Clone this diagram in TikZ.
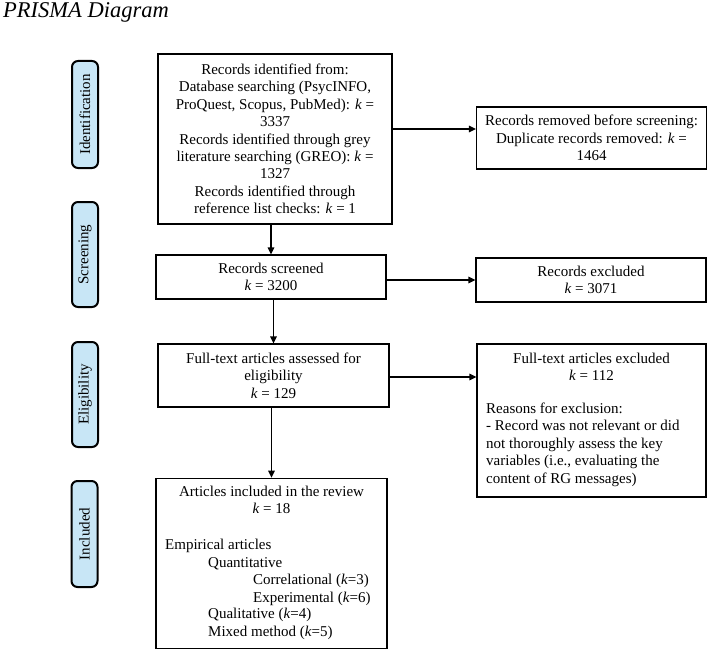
\documentclass[tikz,border=0pt]{standalone}
\usepackage{fontspec}
\setmainfont{Liberation Serif}
\usetikzlibrary{arrows.meta}
\definecolor{sidebl}{RGB}{200,230,246}
\begin{document}
\begin{tikzpicture}[x=1pt,y=1pt,
  every node/.style={font=\fontsize{15pt}{17.4pt}\selectfont, inner sep=0pt},
  box/.style={draw, line width=1.2pt, align=center},
  side/.style={draw, line width=2pt, rounded corners=6pt, fill=sidebl, rotate=90, minimum height=26pt},
  arr/.style={line width=1.5pt, -{Triangle[length=7pt,width=6.5pt]}},
  ln/.style={anchor=base},
  lnl/.style={anchor=base west}]
\useasboundingbox (0,0) rectangle (708,-650);
\node[anchor=base west, font=\fontsize{22.5pt}{26pt}\selectfont\itshape] (title) at (3,-18) {PRISMA Diagram};
% side labels
\node[side, minimum width=107pt] (s1) at (85,-114.5) {Identification};
\node[side, minimum width=105pt] (s2) at (85,-254.5) {Screening};
\node[side, minimum width=105pt] (s3) at (85,-394.5) {Eligibility};
\node[side, minimum width=106pt] (s4) at (84.5,-534) {Included};
% main boxes
\node[box, minimum width=234pt, minimum height=170pt] (b1) at (275,-139) {Records identified from:\\Database searching (PsycINFO,\\ProQuest, Scopus, PubMed): \textit{k} =\\3337\\Records identified through grey\\literature searching (GREO): \textit{k} =\\1327\\Records identified through\\reference list checks: \textit{k} = 1};
\node[box, minimum width=230pt, minimum height=62pt] (r1) at (591.5,-138) {Records removed before screening:\\Duplicate records removed: \textit{k} =\\1464};
\node[box, minimum width=230pt, minimum height=44pt] (b2) at (271,-277) {Records screened\\\textit{k} = 3200};
\node[box, minimum width=230pt, minimum height=44pt] (r2) at (591,-280) {Records excluded\\\textit{k} = 3071};
\node[box, minimum width=231pt, minimum height=63pt] (b3) at (273.5,-375.5) {Full-text articles assessed for\\eligibility\\\textit{k} = 129};
\node[box, minimum width=229pt, minimum height=153pt] (r3) at (591.5,-420.5) {};
\node[ln] (r3a) at (591.5,-363) {Full-text articles excluded};
\node[ln] (r3b) at (591.5,-380) {\textit{k} = 112};
\node[lnl] (r3c) at (486,-413) {Reasons for exclusion:};
\node[lnl] (r3d) at (486,-430.5) {- Record was not relevant or did};
\node[lnl] (r3e) at (486,-448) {not thoroughly assess the key};
\node[lnl] (r3f) at (486,-465.5) {variables (i.e., evaluating the};
\node[lnl] (r3g) at (486,-483) {content of RG messages)};
\node[box, minimum width=231pt, minimum height=170pt] (b4) at (271.5,-563.3) {};
\node[ln] (b4a) at (271.5,-496) {Articles included in the review};
\node[ln] (b4b) at (271.5,-513) {\textit{k} = 18};
\node[lnl] (b4c) at (165,-549) {Empirical articles};
\node[lnl] (b4d) at (208,-567) {Quantitative};
\node[lnl] (b4e) at (253,-584) {Correlational (\textit{k}=3)};
\node[lnl] (b4f) at (253,-602) {Experimental (\textit{k}=6)};
\node[lnl] (b4g) at (208,-618.5) {Qualitative (\textit{k}=4)};
\node[lnl] (b4h) at (208,-636) {Mixed method (\textit{k}=5)};
% connectors
\draw[arr] (b2.north |- b1.south) -- (b2.north);
\draw[arr] (b1.east |- 0,-129) -- (r1.west |- 0,-129);
\draw[arr] (b2.east |- r2.west) -- (r2.west);
\draw[arr] (b3.north |- b2.south) -- (b3.north);
\draw[arr] (b3.east |- 0,-377) -- (r3.west |- 0,-377);
\draw[arr] (b4.north |- b3.south) -- (b4.north);
\end{tikzpicture}
\end{document}
